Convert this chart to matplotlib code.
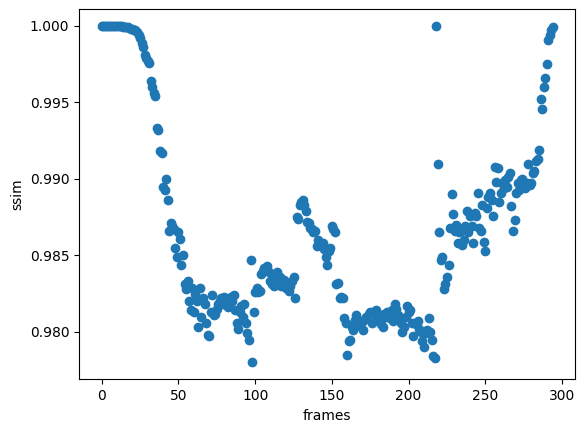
import matplotlib
matplotlib.use("Agg")
import matplotlib.pyplot as plt

ssim = [
    # 0-11
    1.0000, 1.0000, 1.0000, 1.0000, 1.0000, 1.0000, 1.0000, 1.0000, 1.0000, 1.0000, 1.0000, 1.0000,
    # 12-35
    0.99999, 0.99998, 0.99996, 0.99994, 0.99992, 0.9999, 0.99987, 0.99983, 0.9998, 0.99975, 0.9997, 0.9996,
    0.9994, 0.9992, 0.9989, 0.9986, 0.9981, 0.9979, 0.9977, 0.9976, 0.9964, 0.9960, 0.9956, 0.9954,
    # 36-59
    0.9933, 0.9932, 0.9918, 0.9917, 0.9895, 0.9893, 0.9900, 0.9886, 0.9866, 0.9871, 0.9869, 0.9867,
    0.9855, 0.9849, 0.9865, 0.9861, 0.9844, 0.9850, 0.9831, 0.9828, 0.9833, 0.9820, 0.9814, 0.9829,
    # 60-83
    0.9813, 0.9825, 0.9820, 0.9803, 0.9829, 0.9810, 0.9822, 0.9818, 0.9806, 0.9798, 0.9797, 0.9813,
    0.9824, 0.9811, 0.9812, 0.9815, 0.9818, 0.9820, 0.9822, 0.9818, 0.9823, 0.9821, 0.9816, 0.9819,
    # 84-98
    0.9823, 0.9820, 0.9824, 0.9814, 0.9806, 0.9802, 0.9813, 0.9817, 0.9810, 0.9818, 0.9806, 0.9799,
    0.9795, 0.9847, 0.9780,
    # 99-126
    0.9813, 0.9826, 0.9829, 0.9826, 0.9827, 0.9838, 0.9840, 0.9842, 0.9841, 0.9843, 0.9839, 0.9833,
    0.9831, 0.9830, 0.9835, 0.9839, 0.9833, 0.9836, 0.9830, 0.9832, 0.9834, 0.9829, 0.9831, 0.9827,
    0.9830, 0.9833, 0.9836, 0.9822,
    # 127-162
    0.9875, 0.9874, 0.9883, 0.9885, 0.9886, 0.9883, 0.9879, 0.9872, 0.9871, 0.9868, 0.9867, 0.9865,
    0.9866, 0.9856, 0.9860, 0.9857, 0.9858, 0.9858, 0.9854, 0.9849, 0.9844, 0.9853, 0.9855, 0.9869,
    0.9867, 0.9865, 0.9831, 0.9832, 0.9822, 0.9823, 0.9822, 0.9809, 0.9806, 0.9785, 0.9794, 0.9795,
    # 163-217
    0.9803, 0.9801, 0.9808, 0.9811, 0.9807, 0.9804, 0.9806, 0.9801, 0.9808, 0.9810, 0.9809, 0.9812,
    0.9813, 0.9806, 0.9813, 0.9812, 0.9814, 0.9810, 0.9808, 0.9805, 0.9803, 0.9812, 0.9810, 0.9813,
    0.9811, 0.9809, 0.9814, 0.9807, 0.9818, 0.9815, 0.9811, 0.9808, 0.9806, 0.9800, 0.9803, 0.9810,
    0.9817, 0.9813, 0.9814, 0.9806, 0.9797, 0.9806, 0.9805, 0.9807, 0.9802, 0.9800, 0.9794, 0.9790,
    0.9799, 0.9801, 0.9809, 0.9800, 0.9795, 0.9784, 0.9783,
    # 218-252
    1.0000, 0.9910, 0.9865, 0.9847, 0.9849, 0.9828, 0.9831, 0.9836, 0.9844, 0.9868, 0.9890, 0.9877,
    0.9866, 0.9870, 0.9858, 0.9865, 0.9866, 0.9857, 0.9860, 0.9869, 0.9879, 0.9865, 0.9876, 0.9869,
    0.9858, 0.9878, 0.9876, 0.9891, 0.9868, 0.9866, 0.9883, 0.9859, 0.9853, 0.9881, 0.9888,
    # 253-294
    0.9891, 0.9886, 0.9876, 0.9908, 0.9898, 0.9907, 0.9885, 0.9891, 0.9897, 0.9894, 0.9899, 0.9895,
    0.9901, 0.9904, 0.9882, 0.9866, 0.9873, 0.9891, 0.9897, 0.9893, 0.9899, 0.9900, 0.9898, 0.9894,
    0.9897, 0.9910, 0.9896, 0.9897, 0.9904, 0.9905, 0.9912, 0.9913, 0.9919, 0.9952, 0.9946, 0.9960,
    0.9966, 0.9975, 0.9991, 0.9994, 0.9997, 0.9999,
]
frames = list(range(len(ssim)))

fig = plt.figure(figsize=(5.86, 4.32), dpi=100)
ax = fig.add_axes([0.135, 0.122, 0.847, 0.857])
ax.scatter(frames, ssim)
ax.set_xlabel("frames")
ax.set_ylabel("ssim")
fig.savefig("out.png", dpi=100)
